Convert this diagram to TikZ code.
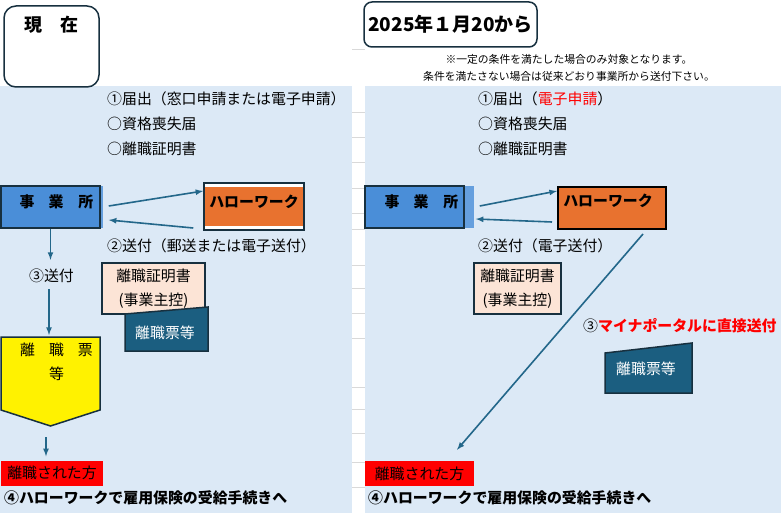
\documentclass[tikz,border=0pt]{standalone}
\usepackage{fontspec}
\setmainfont{Noto Sans CJK JP}
\usepackage{tikz}
\usetikzlibrary{shapes.geometric, arrows}

\definecolor{bgblue}{HTML}{DCE9F6}
\definecolor{officeblue}{HTML}{4A8ED8}
\definecolor{hwork}{HTML}{E8722F}
\definecolor{peach}{HTML}{FCE4D6}
\definecolor{slipteal}{HTML}{1B5E80}
\definecolor{edge}{HTML}{17303F}
\definecolor{arrowc}{HTML}{23678A}
\definecolor{gridc}{HTML}{D9D9D9}

\newcommand{\txtsize}{\fontsize{14.9}{17}\selectfont}
\newcommand{\notesize}{\fontsize{10.8}{12}\selectfont}

\begin{document}
\begin{tikzpicture}[x=1pt,y=-1pt,
  txt/.style={anchor=west,inner sep=0,font=\txtsize},
  arr/.style={->,>=latex,draw=arrowc,line width=1.6},
  officebox/.style={draw=edge,line width=1.5,fill=officeblue,inner sep=0,font=\bfseries\txtsize,minimum width=99,minimum height=42},
  certbox/.style={draw=edge,line width=1.5,fill=peach,inner sep=0,align=center,font=\fontsize{14.9}{24}\selectfont,minimum height=51},
  personbox/.style={fill=red,inner sep=0,font=\txtsize,minimum height=25}]
\useasboundingbox (0,0) rectangle (781,513);
\fill[bgblue] (0,86) rectangle (352,513);
\fill[bgblue] (365,86) rectangle (781,513);
\foreach \yy in {49,112,137,162,188,213,229,265,288,313,338,387,409,433,462,487}
  \draw[gridc,line width=0.8] (352,\yy) -- (365,\yy);

\node[draw=edge,line width=1.5,rounded corners=12,fill=white,minimum width=95,minimum height=81,inner sep=0] (nowbox) at (51.5,46.5) {};
\node[font=\bfseries\fontsize{18}{20}\selectfont,inner sep=0] (nowlbl) at ([yshift=-19]nowbox.north) {現　在};
\node[draw=edge,line width=1.5,rounded corners=8,fill=white,minimum width=173,minimum height=45,inner sep=0,font=\bfseries\fontsize{19}{21}\selectfont] (newbox) at (450.5,24.5) {2025年１月20から};
\node[font=\notesize,inner sep=0] (noteA) at (569,59) {※一定の条件を満たした場合のみ対象となります。};
\node[font=\notesize,inner sep=0] (noteB) at (569,76) {条件を満たさない場合は従来どおり事業所から送付下さい。};

\node[txt] (filingL) at (107,99) {①届出（窓口申請または電子申請）};
\node[txt] (lossL) at (107,124) {○資格喪失届};
\node[txt] (certtxtL) at (107,149) {○離職証明書};
\fill[officeblue!85] (100,186) rectangle (103,228);
\node[officebox] (officeL) at (50.5,207) {\hspace*{12pt}\raisebox{12pt}{事\hspace{14pt}業\hspace{15pt}所}};
\node[draw=edge,line width=1.5,fill=white,minimum width=100,minimum height=47,inner sep=0,font=\bfseries\txtsize,
  path picture={\fill[hwork] ([yshift=-4]path picture bounding box.north west) rectangle ([yshift=4]path picture bounding box.south east);}]
  (helloL) at (254,206.5) {\raisebox{11pt}{ハローワーク}};
\draw[arr] ([shift={(8,-1)}]officeL.east) -- ([shift={(0,-15.5)}]helloL.west);
\draw[arr] ([shift={(-10,21.5)}]helloL.west) -- ([shift={(8,13)}]officeL.east);
\node[txt] (sendL) at (107,246) {②送付（郵送または電子送付）};
\node[inner sep=0,font=\txtsize] (send3L) at (51.5,276) {③送付};
\draw[arr,shorten >=9] (officeL.south) -- (officeL.south |- send3L.north);
\draw[edge,line width=1.5,fill=yellow] (1,337) -- (100,337) -- (100,410) -- (50.5,426) -- (1,410) -- cycle;
\coordinate (slipTop) at (49,337);
\coordinate (slipTip) at (46,426);
\node[align=center,inner sep=0,font=\fontsize{14.9}{24}\selectfont] (slipL) at (56.5,362) {離\hspace{14pt}職\hspace{14pt}票\\等};
\draw[arr,shorten <=6,shorten >=2] (slipTop |- send3L.south) -- (slipTop);
\node[personbox,minimum width=102] (personL) at (52,473) {離職された方};
\draw[arr,shorten <=11,shorten >=4] (slipTip) -- (slipTip |- personL.north);
\node[txt,font=\bfseries\txtsize] (finalL) at (4,498) {④ハローワークで雇用保険の受給手続きへ};
\node[certbox,minimum width=103] (certL) at (153.5,288.5) {離職証明書\\(事業主控)};
\draw[edge,line width=1.5,fill=slipteal] (125,314) -- (208,307) -- (208,351) -- (125,351) -- cycle;
\node[text=white,inner sep=0,font=\txtsize] (slipdocL) at (165,333) {離職票等};

\node[txt] (filingR) at (478,99) {①届出（\textcolor{red}{電子申請}）};
\node[txt] (lossR) at (478,124) {○資格喪失届};
\node[txt] (certtxtR) at (478,149) {○離職証明書};
\fill[officeblue!85] (464,186) rectangle (474,228);
\node[officebox] (officeR) at (414.5,207) {\hspace*{14pt}\raisebox{12pt}{事\hspace{14pt}業\hspace{15pt}所}};
\node[draw=black,line width=2,fill=hwork,minimum width=108,minimum height=42,inner sep=0,font=\bfseries\txtsize] (helloR) at (612,208) {\raisebox{16pt}{ハローワーク}\hspace*{8pt}};
\draw[arr] ([shift={(15,-1)}]officeR.east) -- ([shift={(0,-17)}]helloR.west);
\draw[arr] ([shift={(-5,14)}]helloR.west) -- ([shift={(11,12)}]officeR.east);
\node[txt] (sendR) at (478,246) {②送付（電子送付）};
\node[certbox,minimum width=87] (certR) at (517.5,288.5) {離職証明書\\(事業主控)};
\node[txt] (directR) at (583,326) {③\textcolor{red}{\bfseries マイナポータルに直接送付}};
\draw[edge,line width=1.5,fill=slipteal] (605,353) -- (692,343) -- (692,393) -- (605,393) -- cycle;
\node[text=white,inner sep=0,font=\txtsize] (slipdocR) at (646,369) {離職票等};
\node[personbox,minimum width=109] (personR) at (419.5,473.5) {離職された方};
\draw[arr] ([shift={(31,4)}]helloR.south) -- ([shift={(37.5,-11)}]personR.north);
\node[txt,font=\bfseries\txtsize] (finalR) at (368,498) {④ハローワークで雇用保険の受給手続きへ};
\end{tikzpicture}
\end{document}
